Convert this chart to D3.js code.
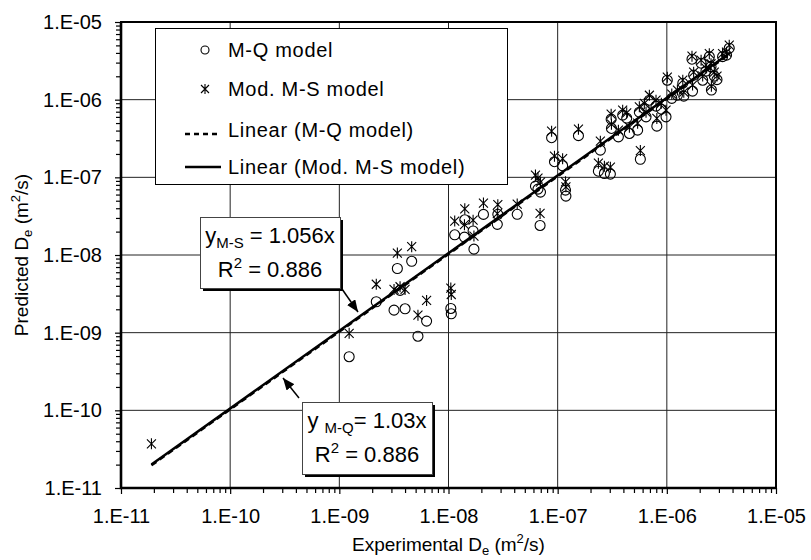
<!DOCTYPE html>
<html>
<head>
<meta charset="utf-8">
<script src="https://cdn.jsdelivr.net/npm/d3@7"></script>
<style>
body { margin: 0; background: #fff; }
text { font-family: "Liberation Sans", Arial, sans-serif; fill: #000; }
</style>
</head>
<body>
<svg id="chart" width="811" height="560"></svg>
<script>
// experimental De (m2/s) and the two predictions at the same points
const expD = [1.9e-11, 1.23e-9, 2.18e-9, 3.4e-9, 4.6e-9, 3.17e-9, 3.6e-9, 4.0e-9, 6.3e-9, 5.25e-9,
    1.05e-8, 1.06e-8, 1.14e-8, 1.41e-8, 1.40e-8, 1.68e-8, 1.71e-8, 2.09e-8, 2.83e-8, 2.80e-8,
    4.26e-8, 6.9e-8, 6.26e-8, 6.6e-8, 6.96e-8, 9.35e-8, 1.11e-7, 1.18e-7, 1.19e-7, 8.8e-8,
    1.55e-7, 2.46e-7, 2.36e-7, 2.68e-7, 3.04e-7, 5.72e-7, 3.09e-7, 3.11e-7, 3.60e-7, 3.94e-7,
    4.29e-7, 4.54e-7, 5.40e-7, 5.60e-7, 6.22e-7, 6.45e-7, 7.96e-7, 8.1e-7, 9.83e-7, 1.01e-6,
    1.11e-6, 1.40e-6, 1.43e-6, 1.72e-6, 1.70e-6, 1.76e-6, 2.06e-6, 2.13e-6, 2.45e-6, 2.54e-6,
    2.28e-6, 2.72e-6, 2.88e-6, 3.24e-6, 3.73e-6, 3.52e-6, 2.56e-6, 8.91e-7, 6.92e-7, 1.25e-6];
const msD = [3.7e-11, 9.8e-10, 4.2e-9, 1.06e-8, 1.28e-8, 3.6e-9, 3.9e-9, 3.6e-9, 2.6e-9, 1.68e-9,
    3.75e-9, 3.1e-9, 2.73e-8, 3.93e-8, 2.46e-8, 2.81e-8, 1.75e-8, 4.66e-8, 4.45e-8, 3.41e-8,
    4.52e-8, 3.43e-8, 1.07e-7, 9.8e-8, 8.7e-8, 1.87e-7, 1.74e-7, 8.75e-8, 7.54e-8, 3.93e-7,
    4.17e-7, 2.92e-7, 1.52e-7, 1.39e-7, 1.35e-7, 2.21e-7, 6.51e-7, 4.84e-7, 4.05e-7, 7.33e-7,
    6.76e-7, 4.43e-7, 4.98e-7, 8.08e-7, 8.93e-7, 6.90e-7, 9.85e-7, 5.73e-7, 7.33e-7, 1.95e-6,
    1.18e-6, 1.78e-6, 1.25e-6, 1.54e-6, 3.63e-6, 2.26e-6, 3.22e-6, 2.01e-6, 3.91e-6, 2.90e-6,
    2.54e-6, 2.26e-6, 2.01e-6, 3.91e-6, 5.03e-6, 4.09e-6, 1.49e-6, 9.02e-7, 1.14e-6, 1.33e-6];
const mqD = [null, 4.9e-10, 2.5e-9, 6.7e-9, 8.3e-9, 1.95e-9, 3.5e-9, 2.03e-9, 1.41e-9, 9.0e-10,
    2.05e-9, 1.75e-9, 1.82e-8, 2.84e-8, 1.70e-8, 2.04e-8, 1.19e-8, 3.33e-8, 3.34e-8, 2.48e-8,
    3.34e-8, 2.40e-8, 7.7e-8, 7.05e-8, 6.45e-8, 1.59e-7, 1.41e-7, 6.85e-8, 5.73e-8, 3.24e-7,
    3.44e-7, 2.24e-7, 1.20e-7, 1.12e-7, 1.10e-7, 1.71e-7, 5.61e-7, 4.26e-7, 3.32e-7, 6.32e-7,
    5.78e-7, 3.67e-7, 4.05e-7, 6.90e-7, 7.70e-7, 6.01e-7, 8.25e-7, 4.56e-7, 6.01e-7, 1.78e-6,
    1.04e-6, 1.63e-6, 1.11e-6, 1.29e-6, 3.32e-6, 2.07e-6, 2.95e-6, 1.78e-6, 3.58e-6, 2.66e-6,
    2.33e-6, 2.01e-6, 1.81e-6, 3.58e-6, 4.60e-6, 3.74e-6, 1.33e-6, 7.54e-7, 9.85e-7, 1.14e-6];

const decades = [1e-11, 1e-10, 1e-9, 1e-8, 1e-7, 1e-6, 1e-5];
const tickLabels = ["1.E-11", "1.E-10", "1.E-09", "1.E-08", "1.E-07", "1.E-06", "1.E-05"];
const slopeMQ = 1.03, slopeMS = 1.056;
const fitRange = [1.9e-11, 3.8e-6];
const legendNames = ["M-Q model", "Mod. M-S model", "Linear (M-Q model)", "Linear (Mod. M-S model)"];

const svg = d3.select("#chart");
const plotL = 121, plotR = 776, plotT = 22, plotB = 488;

const x = d3.scaleLog().domain([1e-11, 1e-5]).range([plotL, plotR]);
const y = d3.scaleLog().domain([1e-11, 1e-5]).range([plotB, plotT]);

let minor = [];
for (let i = 0; i < decades.length - 1; i++) {
    for (let k = 2; k <= 9; k++) minor.push(decades[i] * k);
}

// grid
svg.append("g").selectAll("line").data(decades.slice(1, -1)).join("line")
    .attr("x1", d => x(d)).attr("x2", d => x(d)).attr("y1", plotT).attr("y2", plotB)
    .attr("stroke", "#222").attr("stroke-width", 1);
svg.append("g").selectAll("line").data(decades.slice(1, -1)).join("line")
    .attr("y1", d => y(d)).attr("y2", d => y(d)).attr("x1", plotL).attr("x2", plotR)
    .attr("stroke", "#222").attr("stroke-width", 1);

// axes
function styleAxis(g) {
    g.select(".domain").remove();
    g.selectAll(".tick line").attr("stroke", "#000").attr("stroke-width", 1.2);
    g.selectAll(".tick text").style("font-size", "20px").attr("fill", "#000")
        .style("font-family", '"Liberation Sans", Arial, sans-serif');
}
svg.append("g").attr("transform", `translate(0,${plotB})`)
    .call(d3.axisBottom(x).tickValues(minor).tickSize(5).tickFormat(""))
    .call(styleAxis);
svg.append("g").attr("transform", `translate(0,${plotB})`)
    .call(d3.axisBottom(x).tickValues(decades).tickSize(6).tickPadding(15)
        .tickFormat((d, i) => tickLabels[i]))
    .call(styleAxis);
svg.append("g").attr("transform", `translate(${plotL},0)`)
    .call(d3.axisLeft(y).tickValues(minor).tickSize(5).tickFormat(""))
    .call(styleAxis);
svg.append("g").attr("transform", `translate(${plotL},0)`)
    .call(d3.axisLeft(y).tickValues(decades).tickSize(6).tickPadding(13)
        .tickFormat((d, i) => tickLabels[i]))
    .call(styleAxis);

// frame
svg.append("rect").attr("x", plotL).attr("y", plotT).attr("width", plotR - plotL).attr("height", plotB - plotT)
    .attr("fill", "none").attr("stroke", "#000").attr("stroke-width", 2);
svg.append("path").attr("d", `M${plotL},${plotT}V${plotB}H${plotR}`)
    .attr("fill", "none").attr("stroke", "#000").attr("stroke-width", 2.6);

// fitted lines
const line = d3.line().x(d => x(d[0])).y(d => y(d[1]));
svg.append("path").datum(fitRange.map(v => [v, v * slopeMQ])).attr("d", line)
    .attr("fill", "none").attr("stroke", "#000").attr("stroke-width", 2.5).attr("stroke-dasharray", "6,4");
svg.append("path").datum(fitRange.map(v => [v, v * slopeMS])).attr("d", line)
    .attr("fill", "none").attr("stroke", "#000").attr("stroke-width", 2.5);

// markers
const star = "M-4.5,-4.5L4.5,4.5M-4.5,4.5L4.5,-4.5M0,-5.5V5.5";
svg.append("g").selectAll("circle").data(expD.map((d, i) => [d, mqD[i]]).filter(d => d[1] != null))
    .join("circle").attr("cx", d => x(d[0])).attr("cy", d => y(d[1])).attr("r", 5)
    .attr("fill", "none").attr("stroke", "#000").attr("stroke-width", 1.1);
svg.append("g").selectAll("path").data(expD.map((d, i) => [d, msD[i]]))
    .join("path").attr("d", star).attr("transform", d => `translate(${x(d[0])},${y(d[1])})`)
    .attr("fill", "none").attr("stroke", "#000").attr("stroke-width", 1.1);

// legend
const lg = svg.append("g");
lg.append("rect").attr("x", 155.5).attr("y", 28.5).attr("width", 352).attr("height", 156)
    .attr("fill", "#fff").attr("stroke", "#000").attr("stroke-width", 1);
const rowY = [50, 89, 130, 167];
lg.append("circle").attr("cx", 205).attr("cy", rowY[0]).attr("r", 4)
    .attr("fill", "none").attr("stroke", "#000").attr("stroke-width", 1.1);
lg.append("path").attr("d", "M-4,-4L4,4M-4,4L4,-4M0,-5V5").attr("transform", `translate(205,${rowY[1]})`)
    .attr("fill", "none").attr("stroke", "#000").attr("stroke-width", 1.1);
lg.append("line").attr("x1", 185).attr("x2", 221).attr("y1", rowY[2] + 4).attr("y2", rowY[2] + 4)
    .attr("stroke", "#000").attr("stroke-width", 2.5).attr("stroke-dasharray", "5,4");
lg.append("line").attr("x1", 185).attr("x2", 221).attr("y1", rowY[3]).attr("y2", rowY[3])
    .attr("stroke", "#000").attr("stroke-width", 2.5);
lg.selectAll("text").data(legendNames).join("text")
    .attr("x", 228).attr("y", (d, i) => rowY[i] + 7)
    .style("font-size", "20px").style("letter-spacing", "0.7px").text(d => d);

// annotation boxes
function noteBox(bx, by, w, h, sub, eq, pre) {
    svg.append("rect").attr("x", bx + 3).attr("y", by + 3).attr("width", w).attr("height", h).attr("fill", "#000");
    svg.append("rect").attr("x", bx + 0.5).attr("y", by + 0.5).attr("width", w).attr("height", h)
        .attr("fill", "#fff").attr("stroke", "#444").attr("stroke-width", 1);
    const t1 = svg.append("text").attr("x", bx + w / 2).attr("y", by + 26)
        .attr("text-anchor", "middle").style("font-size", "22px");
    t1.append("tspan").text(pre);
    t1.append("tspan").attr("dy", 5).style("font-size", "15px").text(sub);
    t1.append("tspan").attr("dy", -5).text(eq);
    const t2 = svg.append("text").attr("x", bx + w / 2).attr("y", by + 60)
        .attr("text-anchor", "middle").style("font-size", "22px");
    t2.append("tspan").text("R");
    t2.append("tspan").attr("dy", -9).style("font-size", "15px").text("2");
    t2.append("tspan").attr("dy", 9).text(" = 0.886");
}
noteBox(200, 217, 140, 71, "M-S", " = 1.056x", "y");
noteBox(302, 402, 130, 72, "M-Q", "= 1.03x", "y ");

// arrows
svg.append("defs").append("marker").attr("id", "head").attr("viewBox", "0 0 12 10")
    .attr("refX", 12).attr("refY", 5).attr("markerWidth", 12).attr("markerHeight", 10)
    .attr("markerUnits", "userSpaceOnUse").attr("orient", "auto")
    .append("path").attr("d", "M0,0L12,5L0,10z").attr("fill", "#000");
svg.append("line").attr("x1", 342).attr("y1", 289).attr("x2", 358).attr("y2", 312)
    .attr("stroke", "#000").attr("stroke-width", 1.5).attr("marker-end", "url(#head)");
svg.append("line").attr("x1", 299).attr("y1", 398).attr("x2", 283).attr("y2", 378)
    .attr("stroke", "#000").attr("stroke-width", 1.5).attr("marker-end", "url(#head)");

// axis titles
const xt = svg.append("text").attr("x", (plotL + plotR) / 2).attr("y", 551)
    .attr("text-anchor", "middle").style("font-size", "19px");
xt.append("tspan").text("Experimental  D");
xt.append("tspan").attr("dy", 4).style("font-size", "13px").text("e");
xt.append("tspan").attr("dy", -4).text(" (m");
xt.append("tspan").attr("dy", -8).style("font-size", "13px").text("2");
xt.append("tspan").attr("dy", 8).text("/s)");

const yt = svg.append("text").attr("transform", `translate(28,${(plotT + plotB) / 2}) rotate(-90)`)
    .attr("text-anchor", "middle").style("font-size", "19px");
yt.append("tspan").text("Predicted  D");
yt.append("tspan").attr("dy", 4).style("font-size", "13px").text("e");
yt.append("tspan").attr("dy", -4).text("  (m");
yt.append("tspan").attr("dy", -8).style("font-size", "13px").text("2");
yt.append("tspan").attr("dy", 8).text("/s)");
</script>
</body>
</html>
